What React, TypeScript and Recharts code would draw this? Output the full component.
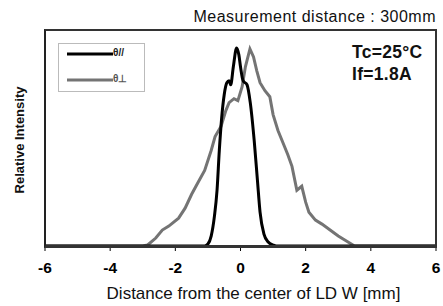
import React from "react";
import { LineChart, Line, XAxis, YAxis } from "recharts";

const xTicks = [-6, -4, -2, 0, 2, 4, 6];

const parallelX = [-6, -1.1, -1.0, -0.9, -0.8, -0.72, -0.65, -0.58, -0.5, -0.42, -0.35, -0.3, -0.22, -0.12, -0.05, 0.0, 0.08, 0.2, 0.3, 0.42, 0.52, 0.6, 0.72, 0.85, 1.0, 1.1, 6];
const parallelY = [0, 0, 0.01, 0.05, 0.15, 0.28, 0.48, 0.64, 0.76, 0.82, 0.83, 0.81, 0.9, 0.995, 0.96, 0.9, 0.83, 0.81, 0.72, 0.53, 0.33, 0.17, 0.06, 0.02, 0.005, 0, 0];

const perpX = [-6, -3.0, -2.85, -2.6, -2.4, -2.2, -1.9, -1.7, -1.5, -1.3, -1.1, -0.9, -0.78, -0.6, -0.45, -0.35, -0.2, -0.08, 0.05, 0.15, 0.29, 0.4, 0.5, 0.6, 0.75, 0.9, 1.0, 1.15, 1.3, 1.45, 1.58, 1.73, 1.88, 2.0, 2.1, 2.3, 2.5, 2.75, 3.0, 3.2, 3.4, 3.5, 6];
const perpY = [0, 0, 0.005, 0.04, 0.08, 0.1, 0.14, 0.19, 0.26, 0.32, 0.38, 0.48, 0.55, 0.6, 0.68, 0.72, 0.74, 0.73, 0.8, 0.9, 0.99, 0.95, 0.88, 0.82, 0.78, 0.75, 0.66, 0.58, 0.52, 0.46, 0.4, 0.28, 0.3, 0.22, 0.17, 0.13, 0.11, 0.08, 0.05, 0.03, 0.01, 0, 0];

const parallelData = parallelX.map((x, i) => ({ x, y: parallelY[i] }));
const perpData = perpX.map((x, i) => ({ x, y: perpY[i] }));

const FONT = "Arial, 'Liberation Sans', sans-serif";

export default function App() {
  return (
    <div style={{ position: "absolute", left: 0, top: 0, width: 443, height: 306, fontFamily: FONT, background: "#fff" }}>
      <LineChart width={443} height={306} margin={{ top: 30, right: 7, bottom: 30, left: 45 }}>
        <XAxis
          type="number"
          dataKey="x"
          domain={[-6, 6]}
          ticks={xTicks}
          allowDataOverflow
          height={30}
          axisLine={false}
          tickLine={{ stroke: "#000", strokeWidth: 1 }}
          tickSize={5}
          tickMargin={11}
          tick={{ fill: "#000", fontSize: 15.5, fontWeight: "bold", fontFamily: FONT }}
        />
        <YAxis
          type="number"
          dataKey="y"
          domain={[0, 1.085]}
          width={0}
          tick={false}
          tickLine={false}
          axisLine={false}
        />
        <Line data={perpData} dataKey="y" type="linear" stroke="#747474" strokeWidth={3} dot={false} isAnimationActive={false} />
        <Line data={parallelData} dataKey="y" type="monotone" stroke="#000" strokeWidth={3} dot={false} isAnimationActive={false} />
      </LineChart>

      <div
        style={{
          position: "absolute",
          left: 44,
          top: 29,
          width: 393,
          height: 219,
          boxSizing: "border-box",
          borderTop: "2px solid #333",
          borderRight: "2px solid #333",
          borderLeft: "2.5px solid #222",
          borderBottom: "3px solid #333",
          pointerEvents: "none",
        }}
      />

      <div style={{ position: "absolute", right: 7, top: 8, fontSize: 16, letterSpacing: 0.5, color: "#111", whiteSpace: "nowrap" }}>
        Measurement distance : 300mm
      </div>

      <div style={{ position: "absolute", left: 58, top: 43, width: 87, height: 49, border: "1px solid #bbb", boxSizing: "border-box" }}>
        <svg width={85} height={47} style={{ position: "absolute", left: 0, top: 0 }}>
          <line x1={8} y1={10} x2={54} y2={10} stroke="#000" strokeWidth={3} />
          <line x1={8} y1={36} x2={54} y2={36} stroke="#747474" strokeWidth={3} />
        </svg>
        <div style={{ position: "absolute", left: 54, top: 3, fontSize: 10, fontWeight: "bold", color: "#222" }}>θ//</div>
        <div style={{ position: "absolute", left: 54, top: 29, fontSize: 10, fontWeight: "bold", color: "#555" }}>θ⊥</div>
      </div>

      <div style={{ position: "absolute", left: 352, top: 41, fontSize: 17.5, fontWeight: "bold", color: "#111", lineHeight: "22px", letterSpacing: 0.3 }}>
        <div>Tc=25°C</div>
        <div>If=1.8A</div>
      </div>

      <div style={{ position: "absolute", left: 19, top: 140, width: 0, height: 0 }}>
        <div style={{ position: "absolute", transform: "translate(-50%, -50%) rotate(-90deg)", left: 0, top: 0, whiteSpace: "nowrap", fontSize: 13, fontWeight: "bold", color: "#111" }}>
          Relative Intensity
        </div>
      </div>

      <div style={{ position: "absolute", left: 0, width: 507, top: 284, textAlign: "center", fontSize: 17, color: "#111", whiteSpace: "nowrap" }}>
        Distance from the center of LD W [mm]
      </div>
    </div>
  );
}
